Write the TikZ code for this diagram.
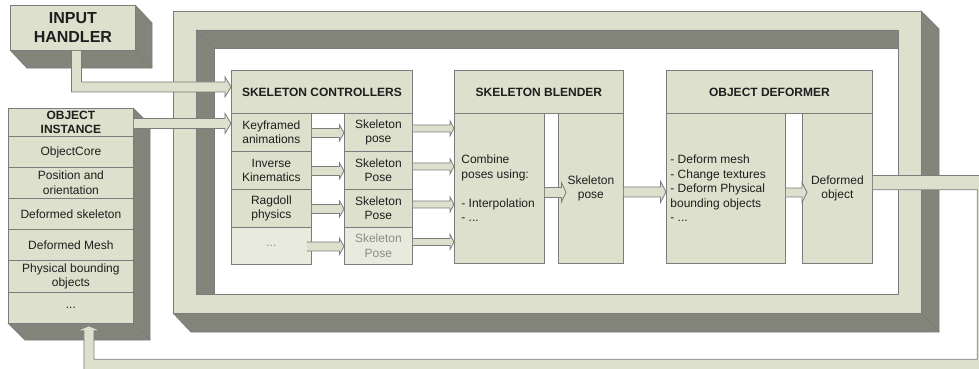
\documentclass[tikz,border=0pt]{standalone}
\usepackage{fontspec}
\setmainfont{Liberation Sans}
\usetikzlibrary{calc}

\definecolor{face}{HTML}{DDE0CC}
\definecolor{facelite}{HTML}{E8EADD}
\definecolor{side}{HTML}{83857A}
\definecolor{edge}{HTML}{7C7C7C}
\definecolor{ink}{HTML}{1E1E1E}
\definecolor{inklite}{HTML}{8C8C8C}

\tikzset{
  panel/.style={draw=edge, line width=0.8pt, fill=face, inner sep=0pt,
    anchor=north west, text=ink, align=center,
    font=\fontsize{12}{14.5}\selectfont},
  title/.style={panel, font=\fontsize{12}{14}\selectfont\bfseries},
  faded/.style={fill=facelite, text=inklite},
  depth/.style={draw=edge, line width=0.8pt, fill=side, line join=round},
  rim/.style={draw=edge, line width=0.8pt},
  arrowfill/.style={fill=face},
  arrowline/.style={draw=edge, line width=0.8pt, line join=miter},
}

% block arrow: filled body, outline left open at the tail
\newcommand\block[1]{\fill[arrowfill] #1 -- cycle; \draw[arrowline] #1;}
% straight horizontal block arrow: [tail] [tip] shaft-half head-half head-length
\newcommand\harrow[5]{%
  \block{let \p1=(#1), \p2=(#2) in
    (\x1,\y1+#3) -- (\x2-#5,\y1+#3) -- (\x2-#5,\y1+#4) -- (\x2,\y1)
    -- (\x2-#5,\y1-#4) -- (\x2-#5,\y1-#3) -- (\x1,\y1-#3)}}

\begin{document}
\begin{tikzpicture}[x=1pt,y=-1pt]
\useasboundingbox (0,0) rectangle (979,369);
\clip (0,0) rectangle (979,369);

% ---------- extruded frame around the pipeline ----------
\draw[depth] (921,11) -- (939,29) -- (939,332) -- (191,332) -- (173,313) -- (921,313) -- cycle;
\draw[rim] (921,313) -- (939,332);
\draw[rim, fill=face, even odd rule] (173,11) rectangle (921,313) (196,30) rectangle (898,294);
\draw[depth] (196,30) -- (898,30) -- (898,48) -- (214,48) -- (214,294) -- (196,294) -- cycle;
\draw[rim] (196,30) -- (214,48);

% ---------- input handler block ----------
\draw[depth] (135,5) -- (152,23) -- (152,68) -- (27,68) -- (10,50) -- (135,50) -- cycle;
\draw[rim] (135,50) -- (152,68);
\node[panel, font=\fontsize{16}{19}\selectfont\bfseries,
      minimum width=125pt, minimum height=45pt] (ih) at (10,5) {INPUT\\HANDLER};

% ---------- object instance block ----------
\draw[depth] (133,108) -- (150,125) -- (150,340) -- (25,340) -- (8,323) -- (133,323) -- cycle;
\draw[rim] (133,323) -- (150,340);
\node[title, minimum width=125pt, minimum height=28pt] (oih) at (8,108) {OBJECT\\INSTANCE};
\node[panel, minimum width=125pt, minimum height=31pt] (oi1) at (8,136) {ObjectCore};
\node[panel, minimum width=125pt, minimum height=31pt] (oi2) at (8,167) {Position and\\orientation};
\node[panel, minimum width=125pt, minimum height=31pt] (oi3) at (8,198) {Deformed skeleton};
\node[panel, minimum width=125pt, minimum height=31pt] (oi4) at (8,229) {Deformed Mesh};
\node[panel, minimum width=125pt, minimum height=32pt] (oi5) at (8,260) {Physical bounding\\objects};
\node[panel, minimum width=125pt, minimum height=31pt] (oi6) at (8,292) {...};

% ---------- skeleton controllers ----------
\node[title, minimum width=181pt, minimum height=43pt] (sch) at (231,70) {SKELETON CONTROLLERS};
\node[panel, minimum width=80pt, minimum height=38pt] (kf) at (231,113) {Keyframed\\animations};
\node[panel, minimum width=80pt, minimum height=38pt] (ik) at (231,151) {Inverse\\Kinematics};
\node[panel, minimum width=80pt, minimum height=38pt] (rd) at (231,189) {Ragdoll\\physics};
\node[panel, faded, minimum width=80pt, minimum height=37pt] (more) at (231,227) {...};
\node[panel, minimum width=68pt, minimum height=38pt] (sp1) at (344,113) {Skeleton\\pose};
\node[panel, minimum width=68pt, minimum height=38pt] (sp2) at (344,151) {Skeleton\\Pose};
\node[panel, minimum width=68pt, minimum height=38pt] (sp3) at (344,189) {Skeleton\\Pose};
\node[panel, faded, minimum width=68pt, minimum height=37pt] (sp4) at (344,227) {Skeleton\\Pose};

% ---------- skeleton blender ----------
\node[title, minimum width=169pt, minimum height=43pt] (sbh) at (454,70) {SKELETON BLENDER};
\node[panel, minimum width=90pt, minimum height=150pt, align=flush left, text width=76pt,
      inner xsep=7pt] (sbl) at (454,113)
      {Combine\\poses using:\\~\\- Interpolation\\- ...};
\node[panel, minimum width=65pt, minimum height=150pt] (sbr) at (558,113) {Skeleton\\pose};

% ---------- object deformer ----------
\node[panel, minimum width=206pt, minimum height=43pt, title] (odh) at (666,70) {OBJECT DEFORMER};
\node[panel, minimum width=119pt, minimum height=150pt, align=flush left, text width=111pt,
      inner xsep=4pt] (odl) at (666,113)
      {- Deform mesh\\- Change textures\\- Deform Physical\\bounding objects\\- ...};
\node[panel, minimum width=70pt, minimum height=150pt] (odr) at (802,113) {Deformed\\object};

% ---------- connectors ----------
% input handler down and into the controllers
\block{let \p1=([xshift=3.5pt]ih.south), \p2=([yshift=5pt]sch.west) in
  (\x1-5pt,\y1) -- (\x1-5pt,\y2-5pt) -- (\x2-6pt,\y2-5pt) -- (\x2-6pt,\y2-10pt)
  -- (\x2,\y2) -- (\x2-6pt,\y2+10pt) -- (\x2-6pt,\y2+5pt) -- (\x1+5pt,\y2+5pt)
  -- (\x1+5pt,\y1)}
% object instance into the controllers
\harrow{[yshift=-1pt]oih.east}{kf.west}{5pt}{10pt}{6pt}

% controllers to their poses
\harrow{[yshift=-0.5pt]kf.east}{sp1.west}{4.5pt}{8pt}{4.5pt}
\harrow{[yshift=-0.5pt]ik.east}{sp2.west}{4.5pt}{8pt}{4.5pt}
\harrow{[yshift=-0.5pt]rd.east}{sp3.west}{4.5pt}{8pt}{4.5pt}
\harrow{[xshift=-5pt,yshift=-0.5pt]more.east}{sp4.west}{4.5pt}{8pt}{4.5pt}

% poses into the blender
\harrow{[yshift=4pt]sp1.east}{sbl.west}{3.5pt}{7.5pt}{4pt}
\harrow{[yshift=4pt]sp2.east}{sbl.west}{3.5pt}{7.5pt}{4pt}
\harrow{[yshift=4pt]sp3.east}{sbl.west}{3.5pt}{7.5pt}{4pt}
\harrow{[yshift=4pt]sp4.east}{sbl.west}{3.5pt}{7.5pt}{4pt}

% blender internals and hand-over to the deformer
\harrow{[yshift=-4pt]sbl.east}{[xshift=8pt]sbr.west}{5pt}{9.5pt}{4.5pt}
\harrow{[yshift=-3.5pt]sbr.east}{odl.west}{5pt}{10.5pt}{5.5pt}
\harrow{[yshift=-4pt]odl.east}{[xshift=5pt]odr.west}{4.5pt}{10pt}{5pt}

% deformed object fed back into the object instance
\coordinate (loopcorner) at (984.5,366.5);
\block{let \p1=([yshift=5.8pt]odr.east), \p2=(loopcorner),
           \p3=([xshift=18pt,yshift=-2pt]oi6.south) in
  (\x1,\y1+7.2pt) -- (\x2+7.2pt,\y1+7.2pt) -- (\x2+7.2pt,\y2-7.2pt)
  -- (\x3-5pt,\y2-7.2pt) -- (\x3-5pt,\y3-5pt) -- (\x3-12pt,\y3-5pt) -- (\x3,\y3)
  -- (\x3+12pt,\y3-5pt) -- (\x3+5pt,\y3-5pt) -- (\x3+5pt,\y2+7.2pt)
  -- (\x2-7.2pt,\y2+7.2pt) -- (\x2-7.2pt,\y1-7.2pt) -- (\x1,\y1-7.2pt)}
\end{tikzpicture}
\end{document}
